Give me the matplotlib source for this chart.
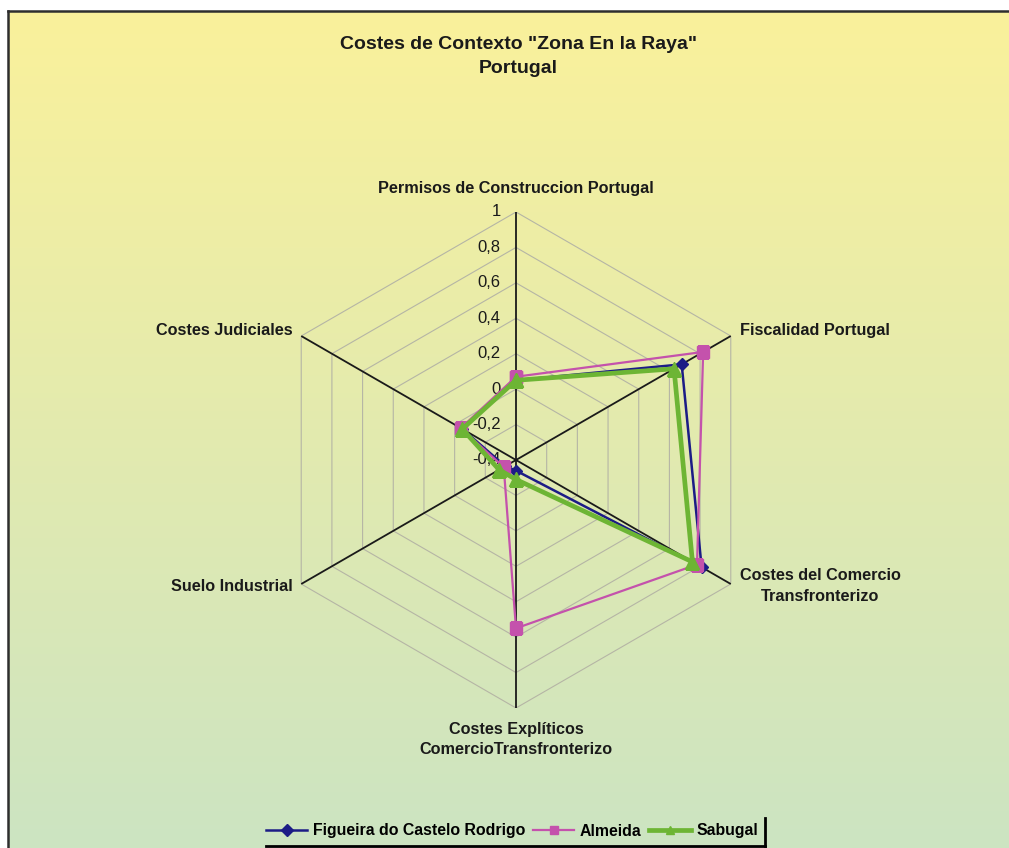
import numpy as np
import matplotlib
matplotlib.use("Agg")
import matplotlib.pyplot as plt
from matplotlib.lines import Line2D

plt.rcParams['font.family'] = ['Liberation Sans', 'DejaVu Sans']

# ---- data ----
categories = [
    "Permisos de Construccion Portugal",
    "Fiscalidad Portugal",
    "Costes del Comercio\nTransfronterizo",
    "Costes Explíticos\nComercioTransfronterizo",
    "Suelo Industrial",
    "Costes Judiciales",
]
series_names = ["Figueira do Castelo Rodrigo", "Almeida", "Sabugal"]
figueira = [0.05, 0.68, 0.81, -0.34, -0.33, -0.05]
almeida = [0.07, 0.82, 0.78, 0.55, -0.32, -0.04]
sabugal = [0.05, 0.63, 0.75, -0.29, -0.29, -0.05]
tick_values = [-0.4, -0.2, 0, 0.2, 0.4, 0.6, 0.8, 1]
tick_labels = ["-0,4", "-0,2", "0", "0,2", "0,4", "0,6", "0,8", "1"]
title = 'Costes de Contexto "Zona En la Raya"\nPortugal'

W, H = 1009, 848
fig = plt.figure(figsize=(W / 100, H / 100), dpi=100)
fig.patch.set_facecolor("white")

# ---- gradient chart area with border on left/top ----
bg = fig.add_axes([8 / W, 0, 1 - 8 / W, 1 - 11 / H])
top = np.array([250, 241, 155]) / 255
bot = np.array([204, 228, 194]) / 255
t = np.linspace(0, 1, 400)[:, None]
grad = (top[None, :] * (1 - t) + bot[None, :] * t)[:, None, :]
bg.imshow(grad, aspect="auto", extent=[0, 1, 0, 1], origin="upper")
bg.set_xlim(0, 1)
bg.set_ylim(0, 1)
bg.set_xticks([])
bg.set_yticks([])
for side in ("right", "bottom"):
    bg.spines[side].set_visible(False)
for side in ("left", "top"):
    bg.spines[side].set_color("#2e2e2e")
    bg.spines[side].set_linewidth(1.8)
bg.set_zorder(0)

# ---- radar axes ----
cx, cy, R = 516, 460, 248
ax = fig.add_axes([(cx - R) / W, (H - cy - R) / H, 2 * R / W, 2 * R / H],
                  projection="polar")
ax.set_zorder(1)
ax.patch.set_alpha(0)
ax.set_theta_offset(np.pi / 2)
ax.set_theta_direction(-1)
ax.set_ylim(-0.4, 1)
ax.spines["polar"].set_visible(False)
ax.grid(False)
ax.set_xticks([])
ax.set_yticks([])

n = len(categories)
angles = np.arange(n) * 2 * np.pi / n
closed = np.concatenate([angles, angles[:1]])

# hexagonal grid rings
for v in tick_values[1:]:
    ax.plot(closed, [v] * (n + 1), color="#b5b5a5", lw=0.8, zorder=1)
# spokes
for a in angles:
    ax.plot([a, a], [-0.4, 1], color="#1a1a1a", lw=1.3, zorder=2)

# tick labels along the top spoke
for v, lab in zip(tick_values, tick_labels):
    ax.annotate(lab, xy=(0, v), xytext=(-11, 0), textcoords="offset points",
                ha="right", va="center", fontsize=12, color="#1a1a1a",
                zorder=3)

# category labels
label_cfg = [
    dict(off=(0, 17), ha="center", va="center"),
    dict(off=(6.5, 4), ha="left", va="center"),
    dict(off=(6.5, -1.5), ha="left", va="center"),
    dict(off=(0, -10), ha="center", va="top"),
    dict(off=(-6, -1.5), ha="right", va="center"),
    dict(off=(-6.5, 4), ha="right", va="center"),
]
for a, lab, cfg in zip(angles, categories, label_cfg):
    ax.annotate(lab, xy=(a, 1), xytext=cfg["off"], textcoords="offset points",
                ha=cfg["ha"], va=cfg["va"], multialignment="center",
                fontsize=11.7, fontweight="bold", color="#1a1a1a",
                linespacing=1.45, annotation_clip=False)

# series
styles = [
    dict(color="#1c1c86", lw=1.8, marker="D", ms=6.5),
    dict(color="#c452ac", lw=1.6, marker="s", ms=9),
    dict(color="#6db534", lw=3.4, marker="^", ms=10),
]
handles = []
for name, vals, st in zip(series_names, [figueira, almeida, sabugal], styles):
    line, = ax.plot(closed, list(vals) + [vals[0]], color=st["color"],
                    lw=st["lw"], marker=st["marker"], ms=st["ms"],
                    markerfacecolor=st["color"], markeredgecolor=st["color"],
                    zorder=4)
    handles.append(line)

# title
fig.text(518 / W, 1 - 56.5 / H, title, ha="center", va="center",
         fontsize=14, fontweight="bold", color="#1a1a1a", linespacing=1.5)

# legend
leg = fig.legend(handles, series_names, loc="center",
                 bbox_to_anchor=(512 / W, 1 - 831 / H), ncol=3, frameon=False,
                 prop=dict(weight="bold", size=11.4), handlelength=2.6,
                 handletextpad=0.35, columnspacing=0.5, borderaxespad=0)
for h in leg.legend_handles:
    h.set_markersize(6)
fig.add_artist(Line2D([266 / W, 765 / W], [1 - 846 / H, 1 - 846 / H],
                      transform=fig.transFigure, color="black", lw=2))
fig.add_artist(Line2D([765 / W, 765 / W], [1 - 846 / H, 1 - 818 / H],
                      transform=fig.transFigure, color="black", lw=2))

fig.savefig("out.png", dpi=100)
